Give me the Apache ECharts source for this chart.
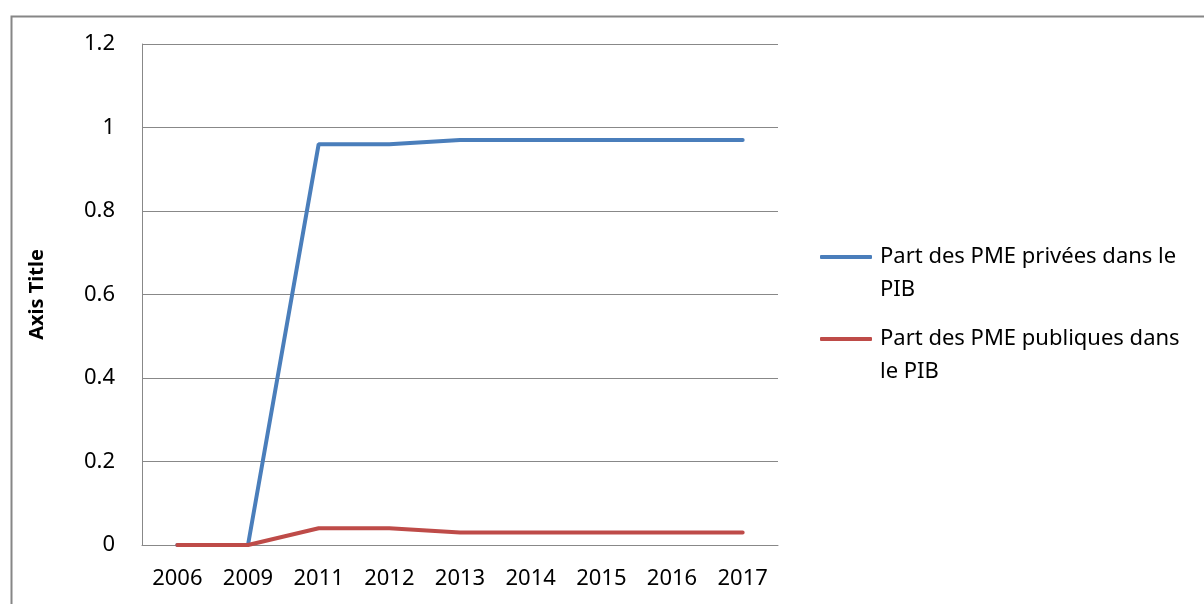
<!DOCTYPE html>
<html>
<head>
<meta charset="utf-8">
<script src="https://cdn.jsdelivr.net/npm/echarts@6/dist/echarts.min.js"></script>
<style>
  html, body { margin: 0; padding: 0; background: #fff; }
  #chart { width: 1204px; height: 604px; }
</style>
</head>
<body>
<div id="chart"></div>
<script>
// categories and values
const years = ['2006', '2009', '2011', '2012', '2013', '2014', '2015', '2016', '2017']
const privees = [0, 0, 0.96, 0.96, 0.97, 0.97, 0.97, 0.97, 0.97]
const publiques = [0, 0, 0.04, 0.04, 0.03, 0.03, 0.03, 0.03, 0.03]
const nomPrivees = 'Part des PME privées dans le PIB'
const nomPubliques = 'Part des PME publiques dans le PIB'
const yTicks = [0, 0.2, 0.4, 0.6, 0.8, 1, 1.2]

const font = 'Noto Sans'
const lh = 33
const chart = echarts.init(document.getElementById('chart'))

// legend text wraps on two lines, icon sits on the first one
// (empty first line so the icon, centred on the block, lands on line 1)
function legendOf(name, iconY, label) {
  return {
    data: [{ name: name, icon: 'roundRect' }],
    left: 820,
    top: iconY - lh * 1.5,
    orient: 'vertical',
    padding: 0,
    itemWidth: 52,
    itemHeight: 4,
    formatter: () => '\n' + label,
    textStyle: {
      fontFamily: font,
      fontSize: 22,
      color: '#000',
      lineHeight: lh,
      padding: [0, 0, 0, 3]
    }
  }
}

chart.setOption({
  animation: false,
  backgroundColor: '#fff',
  graphic: [{
    type: 'rect',
    left: 9,
    top: 14,
    shape: { width: 1220, height: 620 },
    style: { fill: 'none', stroke: '#868686', lineWidth: 2 },
    silent: true
  }],
  grid: { left: 142, top: 44, right: 426, bottom: 59 },
  legend: [
    legendOf(nomPrivees, 257, 'Part des PME privées dans le\nPIB'),
    legendOf(nomPubliques, 339, 'Part des PME publiques dans\nle PIB')
  ],
  xAxis: {
    type: 'category',
    data: years,
    boundaryGap: true,
    axisLine: { lineStyle: { color: '#888', width: 1 } },
    axisTick: { show: false },
    axisLabel: { fontFamily: font, fontSize: 22, color: '#000', margin: 23 }
  },
  yAxis: {
    type: 'value',
    min: 0,
    max: yTicks[yTicks.length - 1],
    interval: 0.2,
    name: 'Axis Title',
    nameLocation: 'middle',
    nameGap: 95,
    nameTextStyle: { fontFamily: font, fontSize: 20, fontWeight: 'bold', color: '#000' },
    axisLine: { show: true, lineStyle: { color: '#888', width: 1 } },
    axisTick: { show: false },
    splitLine: { lineStyle: { color: '#888', width: 1 } },
    axisLabel: {
      fontFamily: font, fontSize: 22, color: '#000', margin: 27,
      formatter: v => String(Math.round(v * 10) / 10)
    }
  },
  series: [
    {
      name: nomPrivees,
      type: 'line',
      data: privees,
      symbol: 'none',
      lineStyle: { color: '#4A7EBB', width: 4, cap: 'round' },
      itemStyle: { color: '#4A7EBB' }
    },
    {
      name: nomPubliques,
      type: 'line',
      data: publiques,
      symbol: 'none',
      lineStyle: { color: '#BE4B48', width: 4, cap: 'round' },
      itemStyle: { color: '#BE4B48' }
    }
  ]
})
</script>
</body>
</html>
